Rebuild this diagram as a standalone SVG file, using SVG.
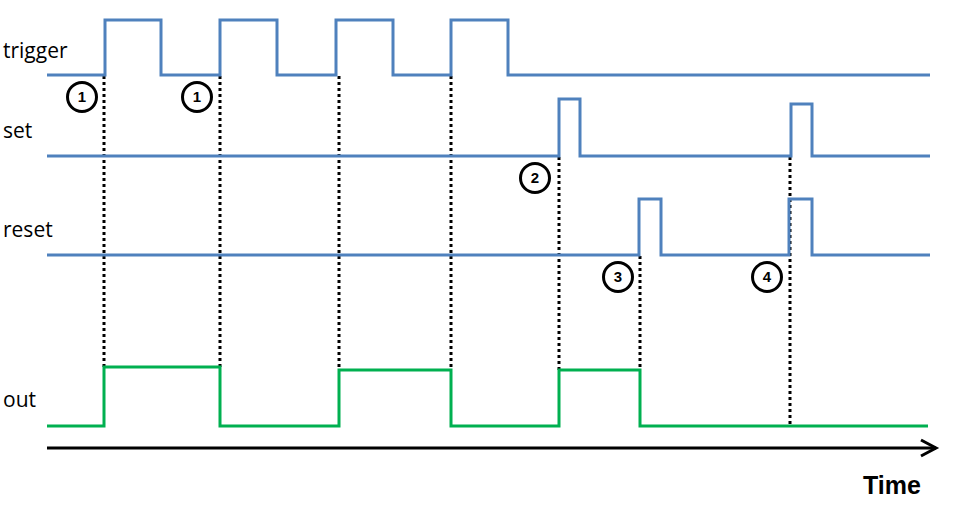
<svg xmlns="http://www.w3.org/2000/svg" width="959" height="508" viewBox="0 0 959 508">
<style>
.sig{fill:none;stroke:#4F81BD;stroke-width:3;stroke-linejoin:miter}
.out{fill:none;stroke:#00B050;stroke-width:3}
.dot{fill:none;stroke:#000;stroke-width:3;stroke-dasharray:3 3}
.lbl{font-family:"Open Sans","Liberation Sans",sans-serif;font-size:21px;fill:#000}
.num circle{fill:#fff;stroke:#000;stroke-width:3}
.num text{font-family:"Liberation Sans",Arial,sans-serif;font-weight:bold;font-size:15px;text-anchor:middle;fill:#000}
</style>
<rect width="959" height="508" fill="#fff"/>
<g id="labels">
<text class="lbl" x="3" y="58">trigger</text>
<text class="lbl" x="3" y="138">set</text>
<text class="lbl" x="3" y="237">reset</text>
<text class="lbl" x="3" y="407">out</text>
</g>
<g id="connectors">
<line class="dot" x1="104" y1="76" x2="104" y2="367"/>
<line class="dot" x1="220" y1="76" x2="220" y2="367"/>
<line class="dot" x1="339" y1="76" x2="339" y2="370"/>
<line class="dot" x1="451" y1="76" x2="451" y2="370"/>
<line class="dot" x1="559" y1="157" x2="559" y2="370"/>
<line class="dot" x1="640" y1="256" x2="640" y2="370"/>
<line class="dot" x1="790" y1="157" x2="790" y2="426"/>
</g>
<g id="trigger">
<polyline class="sig" points="47,75 105,75 105,20 161,20 161,75 220,75 220,20 277,20 277,75 336,75 336,20 393,20 393,75 451,75 451,20 508,20 508,75 930,75"/>
</g>
<g id="set">
<polyline class="sig" points="47,156 559,156 559,99 580,99 580,156 791,156 791,104 812,104 812,156 930,156"/>
</g>
<g id="reset">
<polyline class="sig" points="47,255 639,255 639,199 661,199 661,255 789,255 789,199 812,199 812,255 930,255"/>
</g>
<g id="out">
<polyline class="out" points="47,426 104,426 104,367 220,367 220,426 339,426 339,370 451,370 451,426 559,426 559,370 640,370 640,426 928,426"/>
</g>
<g id="axis">
<line x1="47" y1="448" x2="936" y2="448" stroke="#000" stroke-width="3"/>
<polyline points="921,440 936,448 921,456" fill="none" stroke="#000" stroke-width="3"/>
<text x="863" y="494" font-family="Liberation Sans,Arial,sans-serif" font-weight="bold" font-size="25">Time</text>
</g>
<g id="marker1a" class="num"><circle cx="82" cy="97" r="14.5"/><text x="82" y="102">1</text></g>
<g id="marker1b" class="num"><circle cx="197" cy="97" r="14.5"/><text x="197" y="102">1</text></g>
<g id="marker2" class="num"><circle cx="535" cy="178" r="14.5"/><text x="535" y="183">2</text></g>
<g id="marker3" class="num"><circle cx="618" cy="277" r="14.5"/><text x="618" y="282">3</text></g>
<g id="marker4" class="num"><circle cx="767" cy="277" r="14.5"/><text x="767" y="282">4</text></g>
</svg>
